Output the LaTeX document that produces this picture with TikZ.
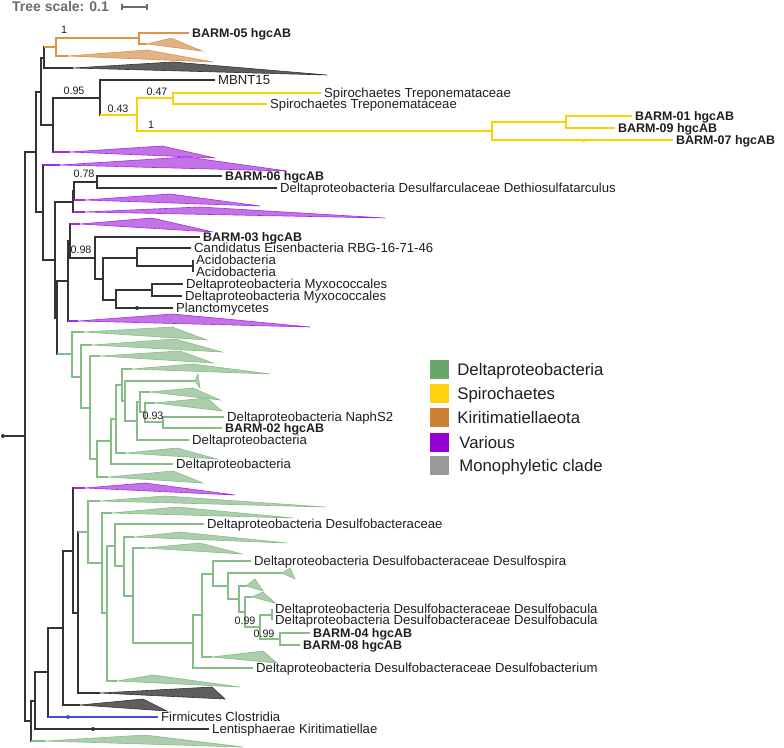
\documentclass[tikz,border=0pt]{standalone}
\usepackage{fontspec}
\setmainfont{Liberation Sans}
\usepackage{tikz}
\usetikzlibrary{positioning}
\definecolor{brblack}{HTML}{333333}
\definecolor{txtblack}{HTML}{1E1E1E}
\definecolor{colorgreen}{HTML}{6AA66A}
\definecolor{coloryellow}{HTML}{FFD20F}
\definecolor{colororange}{HTML}{CD7F32}
\definecolor{colorpurple}{HTML}{9400D3}
\definecolor{colorgray}{HTML}{999999}
\definecolor{colordark}{HTML}{5E5E5E}
\definecolor{colorblue}{HTML}{4B4BD2}
\definecolor{brgreen}{HTML}{86BC86}
\definecolor{brorange}{HTML}{DD9248}
\definecolor{brpurple}{HTML}{A22BE6}
\definecolor{bryellow}{HTML}{FFD000}
\definecolor{scalegray}{HTML}{6B6B6B}
\newcommand\leaffont{\fontsize{13.2pt}{15pt}\selectfont}
\newcommand\leafbold{\fontsize{12.5pt}{15pt}\selectfont\bfseries}
\newcommand\bsfont{\fontsize{10.8pt}{12pt}\selectfont}
\newcommand\legfont{\fontsize{16.8pt}{19pt}\selectfont}
\newcommand\dpb{Deltaproteobacteria}
\tikzset{
  br/.style={draw=brblack, line width=1.1bp},
  brG/.style={draw=brgreen, line width=1.35bp},
  brY/.style={draw=bryellow, line width=1.35bp},
  brO/.style={draw=brorange, line width=1.3bp},
  brP/.style={draw=brpurple, line width=1.3bp},
  brB/.style={draw=colorblue, line width=1.3bp},
  triG/.style={draw=brgreen, fill=colorgreen!55, line width=0.6bp},
  triO/.style={draw=brorange, fill=colororange!60, line width=0.6bp},
  triP/.style={draw=brpurple, fill=colorpurple!55, line width=0.6bp},
  triK/.style={draw=brblack, fill=colordark, line width=0.6bp},
  leaf/.style={anchor=west, inner xsep=3bp, inner ysep=0pt, text height=9.5pt,
    text depth=0pt, font=\leaffont, text=txtblack},
  leafb/.style={leaf, font=\leafbold, text height=9pt},
  bs/.style={inner sep=0pt, text height=7.7pt, text depth=0pt, font=\bsfont, text=txtblack},
  dot/.style={circle, fill=brblack, inner sep=0pt, minimum size=3.6bp},
  legsq/.style={draw=none, minimum size=19bp, inner sep=0pt},
  legtxt/.style={inner sep=0pt, text height=12pt, text depth=0pt, font=\legfont, text=txtblack}
}

\begin{document}
\begin{tikzpicture}[x=1bp, y=-1bp]
\useasboundingbox (0,0) rectangle (784,748);

% scale
\node[anchor=west, inner sep=0pt, text height=10pt, text depth=0pt,
  font=\fontsize{14pt}{16pt}\selectfont\bfseries, text=scalegray] (scale) at (12,7) {Tree scale: 0.1};
\coordinate (sb1) at (122,7);
\coordinate (sb2) at (147,7);
\draw[scalegray, line width=1.2bp] (sb1) -- (sb2);
\draw[scalegray, line width=1.2bp] ([yshift=-3bp]sb1) -- ([yshift=3bp]sb1);
\draw[scalegray, line width=1.2bp] ([yshift=-3bp]sb2) -- ([yshift=3bp]sb2);

% internal nodes, upper part
\node[dot, minimum size=4bp] (root) at (3,436) {};
\coordinate (r) at (25,436);
\coordinate (a) at (36,152);
\coordinate (c) at (41,92);
\coordinate (e) at (44,58);
\coordinate (o1) at (56,47);
\coordinate (o2) at (139,38);
\coordinate (f) at (53,125);
\coordinate (g) at (100,98);
\coordinate (h) at (137,115);
\coordinate (i) at (173,98);
\coordinate (j) at (492,131);
\coordinate (k) at (566,122);
\coordinate (d) at (43,212);
\coordinate (l) at (55,260);
\coordinate (m) at (73,202);
\coordinate (p) at (74,191);
\coordinate (q) at (97,182);
\coordinate (n) at (57,318);
\coordinate (s) at (68,281);
\coordinate (u) at (70,241);
\coordinate (v) at (95,258);
\coordinate (w) at (103,279);
\coordinate (x1) at (137,258);
\coordinate (acido) at (193,266);
\coordinate (y1) at (116,300);
\coordinate (z1) at (152,290);

% green clade
\coordinate (t) at (72,354);
\coordinate (N81) at (81,377);
\coordinate (N90) at (90,408);
\coordinate (N97) at (97,459);
\coordinate (N111) at (111,441);
\coordinate (N116) at (116,419);
\coordinate (N122) at (122,385);
\coordinate (N125) at (125,401);
\coordinate (N137) at (137,421);
\coordinate (N140) at (140,402);
\coordinate (N145) at (145,412);
\coordinate (N163) at (163,422);

% lower part
\coordinate (b) at (31,721);
\coordinate (B1) at (35,701);
\coordinate (B2) at (48,672);
\coordinate (B3) at (63,628);
\coordinate (B4) at (73,551);
\coordinate (B5) at (78,613);
\coordinate (B6) at (88,532);
\coordinate (B7) at (102,563);
\coordinate (B8) at (107,613);
\coordinate (B9) at (115,546);
\coordinate (B10) at (124,566);
\coordinate (B11) at (133,596);
\coordinate (B12) at (193,643);
\coordinate (B13) at (202,615);
\coordinate (B14) at (213,574);
\coordinate (B15) at (228,586);
\coordinate (B16) at (239,599);
\coordinate (B17) at (245,612);
\coordinate (B18) at (260,627);
\coordinate (B19) at (280,639);
\coordinate (P) at (272,615);

% collapsed clades (apex)
\coordinate (tO1) at (147,44);
\coordinate (tO2) at (68,56);
\coordinate (tK1) at (73,68);
\coordinate (tP1) at (70,152);
\coordinate (tP2) at (60,165);
\coordinate (tP3) at (85,200);
\coordinate (tP4) at (85,212);
\coordinate (tP5) at (80,224);
\coordinate (tP6) at (78,321);
\coordinate (tG1) at (84,332);
\coordinate (tG2) at (92,345);
\coordinate (tG3) at (100,356);
\coordinate (tG4) at (108,477);
\coordinate (tG5) at (126,453);
\coordinate (tG6) at (132,369);
\coordinate (tG7) at (195,381);
\coordinate (tG8) at (150,392);
\coordinate (tG9) at (155,403);
\coordinate (tG10) at (45,741);
\coordinate (tP7) at (85,488);
\coordinate (tK2) at (80,705);
\coordinate (tK3) at (100,693);
\coordinate (tG11) at (100,501);
\coordinate (tG12) at (112,513);
\coordinate (tG13) at (117,681);
\coordinate (tG14) at (134,537);
\coordinate (tG15) at (145,548);
\coordinate (tG16) at (212,657);
\coordinate (tG17) at (282,573);
\coordinate (tG18) at (246,586);
\coordinate (tG19) at (252,597);

% leaves
\node[leafb] (l05) at (189,33) {BARM-05 hgcAB};
\node[leaf] (lMB) at (215,80) {MBNT15};
\node[leaf] (lSp1) at (321,93) {Spirochaetes Treponemataceae};
\node[leaf] (lSp2) at (267,104) {Spirochaetes Treponemataceae};
\node[leafb] (l01) at (632,116) {BARM-01 hgcAB};
\node[leafb] (l09) at (615,128) {BARM-09 hgcAB};
\node[leafb] (l07) at (673,140) {BARM-07 hgcAB};
\node[leafb] (l06) at (222,176) {BARM-06 hgcAB};
\node[leaf] (lDth) at (277,188) {\dpb{} Desulfarculaceae Dethiosulfatarculus};
\node[leafb] (l03) at (200,237) {BARM-03 hgcAB};
\node[leaf] (lCan) at (191,248) {Candidatus Eisenbacteria RBG-16-71-46};
\node[leaf] (lAc1) at (193,260) {Acidobacteria};
\node[leaf] (lAc2) at (193,272) {Acidobacteria};
\node[leaf] (lMx1) at (183,284) {\dpb{} Myxococcales};
\node[leaf] (lMx2) at (182,296) {\dpb{} Myxococcales};
\node[leaf] (lPl) at (173,308) {Planctomycetes};
\node[leaf] (lNa) at (224,417) {\dpb{} NaphS2};
\node[leafb] (l02) at (222,428) {BARM-02 hgcAB};
\node[leaf] (lDp1) at (189,440) {\dpb};
\node[leaf] (lDp2) at (173,464) {\dpb};
\node[leaf] (lDs) at (204,524) {\dpb{} Desulfobacteraceae};
\node[leaf] (lDsp) at (251,561) {\dpb{} Desulfobacteraceae Desulfospira};
\node[leaf] (lDb1) at (272,609) {\dpb{} Desulfobacteraceae Desulfobacula};
\node[leaf] (lDb2) at (272,620) {\dpb{} Desulfobacteraceae Desulfobacula};
\node[leafb] (l04) at (310,633) {BARM-04 hgcAB};
\node[leafb] (l08) at (300,645) {BARM-08 hgcAB};
\node[leaf] (lDbm) at (253,668) {\dpb{} Desulfobacteraceae Desulfobacterium};
\node[leaf] (lFir) at (158,717) {Firmicutes Clostridia};
\node[leaf] (lLen) at (209,729) {Lentisphaerae Kiritimatiellae};

% branches (black parent, coloured child: vertical black, horizontal coloured)
\draw[br] (root) -- (r);
\draw[br] (r) |- (a);
\draw[br] (r) |- (b);
\draw[br] (a) |- (c);
\draw[br] (a) |- (d);
\draw[br] (c) |- (e);
\draw[br] (c) |- (f);
\draw[br] (e) |- (o1);
\draw[brO] (e |- o1) -- (o1);
\draw[br] (e) |- (tK1);
\draw[brO] (o1) |- (o2);
\draw[brO] (o1) |- (tO2);
\draw[brO] (o2) |- (l05.west);
\draw[brO] (o2) |- (tO1);
\draw[br] (f) |- (g);
\draw[br] (f) |- (tP1);
\draw[brP] (f |- tP1) -- (tP1);
\draw[br] (g) |- (lMB.west);
\draw[br] (g) |- (h);
\draw[brY] (g |- h) -- (h);
\draw[brY] (h) |- (i);
\draw[brY] (h) |- (j);
\draw[brY] (i) |- (lSp1.west);
\draw[brY] (i) |- (lSp2.west);
\draw[brY] (j) |- (k);
\draw[brY] (j) |- (l07.west);
\draw[brY] (k) |- (l01.west);
\draw[brY] (k) |- (l09.west);
\draw[br] (d) |- (tP2);
\draw[brP] (d |- tP2) -- (tP2);
\draw[br] (d) |- (l);
\draw[br] (l) |- (m);
\draw[br] (l) |- (n);
\draw[br] (m) |- (p);
\draw[br] (m) |- (tP4);
\draw[brP] (m |- tP4) -- (tP4);
\draw[br] (p) |- (q);
\draw[br] (p) |- (tP3);
\draw[brP] (p |- tP3) -- (tP3);
\draw[br] (q) |- (l06.west);
\draw[br] (q) |- (lDth.west);
\draw[br] (n) |- (s);
\draw[br] (n) |- (t);
\draw[brG] (n |- t) -- (t);
\draw[br] (s) |- (u);
\draw[br] (s) |- (tP6);
\draw[brP] (s |- tP6) -- (tP6);
\draw[br] (u) |- (tP5);
\draw[brP] (u |- tP5) -- (tP5);
\draw[br] (u) |- (v);
\draw[br] (v) |- (l03.west);
\draw[br] (v) |- (w);
\draw[br] (w) |- (x1);
\draw[br] (w) |- (y1);
\draw[br] (x1) |- (lCan.west);
\draw[br] (x1) |- (acido);
\draw[br] (acido) |- (lAc1.west);
\draw[br] (acido) |- (lAc2.west);
\draw[br] (y1) |- (z1);
\draw[br] (y1) |- (lPl.west);
\draw[br] (z1) |- (lMx1.west);
\draw[br] (z1) |- (lMx2.west);

\draw[brG] (t) |- (tG1);
\draw[brG] (t) |- (N81);
\draw[brG] (N81) |- (tG2);
\draw[brG] (N81) |- (N90);
\draw[brG] (N90) |- (tG3);
\draw[brG] (N90) |- (N97);
\draw[brG] (N97) |- (N111);
\draw[brG] (N97) |- (tG4);
\draw[brG] (N111) |- (N116);
\draw[brG] (N111) |- (lDp2.west);
\draw[brG] (N116) |- (N122);
\draw[brG] (N116) |- (tG5);
\draw[brG] (N122) |- (tG6);
\draw[brG] (N122) |- (N125);
\draw[brG] (N125) |- (tG7);
\draw[brG] (N125) |- (N137);
\draw[brG] (N137) |- (N140);
\draw[brG] (N137) |- (lDp1.west);
\draw[brG] (N140) |- (tG8);
\draw[brG] (N140) |- (N145);
\draw[brG] (N145) |- (tG9);
\draw[brG] (N145) |- (N163);
\draw[brG] (N163) |- (lNa.west);
\draw[brG] (N163) |- (l02.west);

\draw[br] (b) |- (B1);
\draw[br] (b) |- (tG10);
\draw[brG] (b |- tG10) -- (tG10);
\draw[br] (B1) |- (B2);
\draw[br] (B1) |- (lLen.west);
\draw[br] (B2) |- (B3);
\draw[br] (B2) |- (lFir.west);
\draw[brB] (B2 |- lFir.west) -- (lFir.west);
\draw[br] (B3) |- (B4);
\draw[br] (B3) |- (tK2);
\draw[br] (B4) |- (tP7);
\draw[brP] (B4 |- tP7) -- (tP7);
\draw[br] (B4) |- (B5);
\draw[br] (B5) |- (B6);
\draw[brG] (B5 |- B6) -- (B6);
\draw[br] (B5) |- (tK3);
\draw[brG] (B6) |- (tG11);
\draw[brG] (B6) |- (B7);
\draw[brG] (B7) |- (tG12);
\draw[brG] (B7) |- (B8);
\draw[brG] (B8) |- (B9);
\draw[brG] (B8) |- (tG13);
\draw[brG] (B9) |- (lDs.west);
\draw[brG] (B9) |- (B10);
\draw[brG] (B10) |- (tG14);
\draw[brG] (B10) |- (B11);
\draw[brG] (B11) |- (tG15);
\draw[brG] (B11) |- (B12);
\draw[brG] (B12) |- (B13);
\draw[brG] (B12) |- (lDbm.west);
\draw[brG] (B13) |- (B14);
\draw[brG] (B13) |- (tG16);
\draw[brG] (B14) |- (lDsp.west);
\draw[brG] (B14) |- (B15);
\draw[brG] (B15) |- (tG17);
\draw[brG] (B15) |- (B16);
\draw[brG] (B16) |- (tG18);
\draw[brG] (B16) |- (B17);
\draw[brG] (B17) |- (tG19);
\draw[brG] (B17) |- (B18);
\draw[brG] (B18) |- (P);
\draw[brG] (B18) |- (B19);
\draw[brG] (P) |- (lDb1.west);
\draw[brG] (P) |- (lDb2.west);
\draw[brG] (B19) |- (l04.west);
\draw[brG] (B19) |- (l08.west);

% collapsed clades
\filldraw[triO] (tO1) -- (171,38) -- (202,51) -- cycle;
\filldraw[triO] (tO2) -- (147,50) -- (213,62) -- cycle;
\filldraw[triK] (tK1) -- (173,62) -- (327,75) -- cycle;
\filldraw[triP] (tP1) -- (162,146) -- (215,158) -- cycle;
\filldraw[triP] (tP2) -- (187,157) -- (287,171) -- cycle;
\filldraw[triP] (tP3) -- (170,194) -- (260,206) -- cycle;
\filldraw[triP] (tP4) -- (200,207) -- (385,218) -- cycle;
\filldraw[triP] (tP5) -- (152,218) -- (213,232) -- cycle;
\filldraw[triP] (tP6) -- (173,314) -- (310,327) -- cycle;
\filldraw[triG] (tG1) -- (172,327) -- (207,340) -- cycle;
\filldraw[triG] (tG2) -- (175,339) -- (222,352) -- cycle;
\filldraw[triG] (tG3) -- (180,351) -- (213,363) -- cycle;
\filldraw[triG] (tG4) -- (173,471) -- (203,483) -- cycle;
\filldraw[triG] (tG5) -- (177,448) -- (217,459) -- cycle;
\filldraw[triG] (tG6) -- (193,364) -- (270,374) -- cycle;
\filldraw[triG] (tG7) -- (198,374) -- (200,388) -- cycle;
\filldraw[triG] (tG8) -- (193,388) -- (220,400) -- cycle;
\filldraw[triG] (tG9) -- (207,398) -- (222,411) -- cycle;
\filldraw[triP] (tP7) -- (145,483) -- (235,495) -- cycle;
\filldraw[triG] (tG11) -- (165,496) -- (325,507) -- cycle;
\filldraw[triG] (tG12) -- (177,507) -- (293,518) -- cycle;
\filldraw[triG] (tG14) -- (180,532) -- (287,543) -- cycle;
\filldraw[triG] (tG15) -- (200,543) -- (242,554) -- cycle;
\filldraw[triG] (tG17) -- (290,568) -- (295,579) -- cycle;
\filldraw[triG] (tG18) -- (255,579) -- (263,591) -- cycle;
\filldraw[triG] (tG19) -- (263,592) -- (275,603) -- cycle;
\filldraw[triG] (tG16) -- (263,651) -- (277,663) -- cycle;
\filldraw[triG] (tG13) -- (153,675) -- (240,687) -- cycle;
\filldraw[triK] (tK3) -- (212,687) -- (225,699) -- cycle;
\filldraw[triK] (tK2) -- (143,699) -- (167,711) -- cycle;
\filldraw[triG] (tG10) -- (145,735) -- (243,747) -- cycle;

% marks on branches
\node[dot, minimum size=4bp] (mPl) at (137,308) {};
\node[dot, minimum size=4bp] (mLen) at (93,729) {};
\node[dot, minimum size=4bp, fill=colorblue] (mFir) at (68,717) {};
\node[dot, rectangle, minimum size=3bp, fill=coloryellow] (m07) at (583,140) {};

% support values
\node[bs] (s1) at (64,30) {1};
\node[bs] (s2) at (74,91) {0.95};
\node[bs] (s3) at (157,92) {0.47};
\node[bs] (s4) at (118,109) {0.43};
\node[bs] (s5) at (151,125) {1};
\node[bs] (s6) at (84,174) {0.78};
\node[bs] (s7) at (81,250) {0.98};
\node[bs] (s8) at (153,416) {0.93};
\node[bs] (s9) at (245,621) {0.99};
\node[bs] (s10) at (264,634) {0.99};

% legend
\node[legsq, fill=colorgreen] (k1) at (439.5,369.5) {};
\node[legsq, fill=coloryellow] (k2) at (439.5,393.5) {};
\node[legsq, fill=colororange] (k3) at (439.5,417.5) {};
\node[legsq, fill=colorpurple] (k4) at (439.5,442.5) {};
\node[legsq, fill=colorgray] (k5) at (439.5,465.5) {};
\node[legtxt, right=8bp of k1] (k1t) {Deltaproteobacteria};
\node[legtxt, right=8bp of k2] (k2t) {Spirochaetes};
\node[legtxt, right=8bp of k3] (k3t) {Kiritimatiellaeota};
\node[legtxt, right=10bp of k4] (k4t) {Various};
\node[legtxt, right=10bp of k5] (k5t) {Monophyletic clade};
\end{tikzpicture}
\end{document}
